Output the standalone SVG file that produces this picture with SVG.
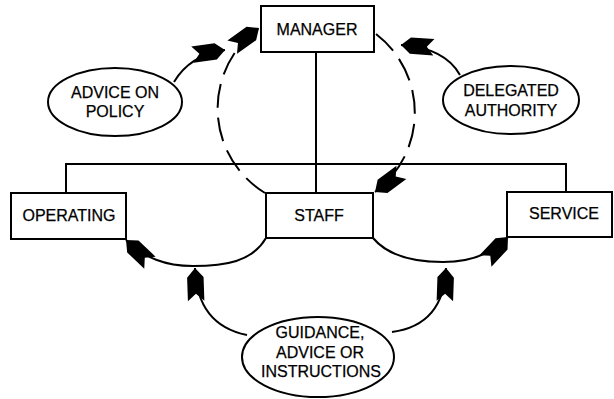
<svg xmlns="http://www.w3.org/2000/svg" width="614" height="399" viewBox="0 0 614 399">
<style>
.box{fill:#fff;stroke:#000;stroke-width:2}
.ell{fill:#fff;stroke:#000;stroke-width:2}
.ln{fill:none;stroke:#000;stroke-width:2}
.dash{fill:none;stroke:#000;stroke-width:2;stroke-dasharray:24 10}
.arr{fill:none;stroke:#000;stroke-width:2;marker-end:url(#fl)}
text{font-family:"Liberation Sans",Arial,sans-serif;font-size:16px;fill:#000;text-anchor:middle;stroke:#000;stroke-width:0.25}
</style>
<defs>
<marker id="fl" markerUnits="userSpaceOnUse" markerWidth="40" markerHeight="30" viewBox="-2 -12 34 24" refX="28" refY="0" orient="auto" overflow="visible">
<polygon points="28,0 20,-7 0,-7 6,0 0,7 20,7" fill="#000"/>
</marker>
</defs>
<g id="connectors">
<line class="ln" x1="316" y1="52" x2="316" y2="193"/>
<polyline class="ln" points="66,193 66,164 566,164 566,192"/>
<path class="dash" d="M 265 193 A 99 99 0 0 1 259 28" marker-end="url(#fl)"/>
<path class="dash" d="M 376 34 A 99 99 0 0 1 375 192" marker-end="url(#fl)"/>
<path class="arr" d="M 174 82 Q 190 55 225 50"/>
<path class="arr" d="M 460 75 Q 445 48 401 45"/>
<path class="arr" d="M 266 238 C 252 262 225 266 193 266 C 165 266 145 258 126 240"/>
<path class="arr" d="M 373 238 C 388 256 415 262 443 262 C 470 262 492 254 508 237"/>
<path class="arr" d="M 247 335 Q 197 325 195 268"/>
<path class="arr" d="M 392 332 Q 444 325 446 268"/>
</g>
<g id="manager"><rect class="box" x="261" y="6" width="113" height="46"/><text x="317" y="35">MANAGER</text></g>
<g id="operating"><rect class="box" x="11" y="193" width="115" height="46"/><text x="69" y="221">OPERATING</text></g>
<g id="staff"><rect class="box" x="266" y="193" width="107" height="45"/><text x="319" y="221">STAFF</text></g>
<g id="service"><rect class="box" x="507" y="192" width="105" height="45"/><text x="564" y="219">SERVICE</text></g>
<g id="advice"><ellipse class="ell" cx="115" cy="102" rx="67" ry="34"/><text x="115" y="98">ADVICE ON</text><text x="115" y="117">POLICY</text></g>
<g id="delegated"><ellipse class="ell" cx="511" cy="100" rx="68" ry="34"/><text x="511" y="96">DELEGATED</text><text x="511" y="116">AUTHORITY</text></g>
<g id="guidance"><ellipse class="ell" cx="318" cy="357" rx="76" ry="40"/><text x="320" y="338">GUIDANCE,</text><text x="320" y="358">ADVICE OR</text><text x="321" y="377">INSTRUCTIONS</text></g>
</svg>
